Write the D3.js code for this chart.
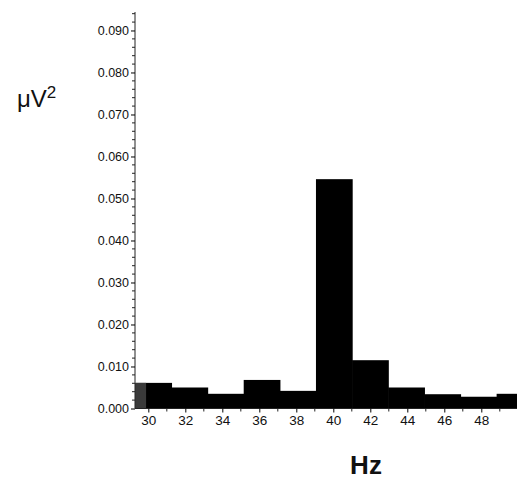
<!DOCTYPE html>
<html lang="en">
<head>
<meta charset="UTF-8">
<title>Spectrum</title>
<style>
  body { margin: 0; background: #fff; }
  text { font-family: "Liberation Sans", Arial, sans-serif; }
</style>
</head>
<body>
<div id="graph"></div>
<script src="https://d3js.org/d3.v7.min.js"></script>
<script>
    const WIDTH = 520;
    const HEIGHT = 486;
    const BIN = 1.953125;

    // bins start at k * BIN Hz
    const BIN_INDEX = [15, 16, 17, 18, 19, 20, 21, 22, 23, 24, 25];
    const POWER = [0.0061, 0.0050, 0.0035, 0.0068, 0.0042, 0.0546, 0.0115, 0.0050, 0.0034, 0.0028, 0.0035];
    // shaded part of the first bin
    const SHADE = { from: 29.30, to: 29.88, value: 0.0061 };

    const X_DOMAIN = [29.28, 49.93];
    const Y_DOMAIN = [0, 0.0944];
    const X_TICKS = [30, 32, 34, 36, 38, 40, 42, 44, 46, 48];
    const X_MINOR = [31, 33, 35, 37, 39, 41, 43, 45, 47, 49];
    const Y_TICKS = d3.range(0, 0.0901, 0.01);
    const Y_MINOR = d3.range(0, 0.0941, 0.002).filter(v => Math.round(v * 1000) % 10 !== 0);

    const x = d3.scaleLinear().domain(X_DOMAIN).range([135, 517]);
    const y = d3.scaleLinear().domain(Y_DOMAIN).range([408.5, 12]);

    const svg = d3.select("#graph")
        .append("svg")
        .attr("width", WIDTH)
        .attr("height", HEIGHT);

    svg.append("clipPath").attr("id", "plot")
        .append("rect")
        .attr("x", x(X_DOMAIN[0])).attr("y", 0)
        .attr("width", x(X_DOMAIN[1]) - x(X_DOMAIN[0]))
        .attr("height", HEIGHT);

    const bars = svg.append("g").attr("clip-path", "url(#plot)");

    bars.selectAll("rect.bar")
        .data(BIN_INDEX.map((k, i) => ({ x0: k * BIN, x1: (k + 1) * BIN, v: POWER[i] })))
        .enter()
        .append("rect")
        .attr("class", "bar")
        .attr("x", d => x(d.x0))
        .attr("width", d => x(d.x1) - x(d.x0) + 0.6)
        .attr("y", d => y(d.v))
        .attr("height", d => y(0) - y(d.v))
        .attr("fill", "#000");

    bars.append("rect")
        .attr("x", x(SHADE.from))
        .attr("width", x(SHADE.to) - x(SHADE.from))
        .attr("y", y(SHADE.value))
        .attr("height", y(0) - y(SHADE.value))
        .attr("fill", "#3a3a3a");

    // y axis
    const yAxis = svg.append("g")
        .attr("transform", `translate(${x(X_DOMAIN[0])},0)`)
        .call(d3.axisLeft(y).tickValues(Y_TICKS).tickFormat(d3.format(".3f")).tickSize(4).tickPadding(2));
    yAxis.select(".domain").attr("d", `M0,${y(0)}V${y(Y_DOMAIN[1])}`).attr("stroke", "#222");
    yAxis.selectAll("text").attr("font-size", 12.5).attr("fill", "#111");
    yAxis.selectAll("g.minor")
        .data(Y_MINOR)
        .enter()
        .append("line")
        .attr("x1", -3).attr("x2", 0)
        .attr("y1", d => y(d)).attr("y2", d => y(d))
        .attr("stroke", "#222");

    // x axis
    const xAxis = svg.append("g")
        .attr("transform", `translate(0,${y(0)})`)
        .call(d3.axisBottom(x).tickValues(X_TICKS).tickSize(4).tickPadding(3));
    xAxis.select(".domain").attr("d", `M${x(X_DOMAIN[0])},0H${x(X_DOMAIN[1])}`).attr("stroke", "#222");
    xAxis.selectAll("text").attr("font-size", 13.5).attr("fill", "#111");
    xAxis.selectAll("line.minor")
        .data(X_MINOR)
        .enter()
        .append("line")
        .attr("x1", d => x(d)).attr("x2", d => x(d))
        .attr("y1", 0).attr("y2", 3)
        .attr("stroke", "#222");

    // labels
    const yl = svg.append("text")
        .attr("x", 17)
        .attr("y", 107)
        .attr("font-size", 24)
        .attr("fill", "#111");
    yl.append("tspan").text("μV");
    yl.append("tspan").attr("dy", -9).attr("font-size", 17).text("2");

    svg.append("text")
        .attr("x", 366)
        .attr("y", 474)
        .attr("text-anchor", "middle")
        .attr("font-size", 26)
        .attr("font-weight", "bold")
        .attr("fill", "#111")
        .text("Hz");
</script>
</body>
</html>
